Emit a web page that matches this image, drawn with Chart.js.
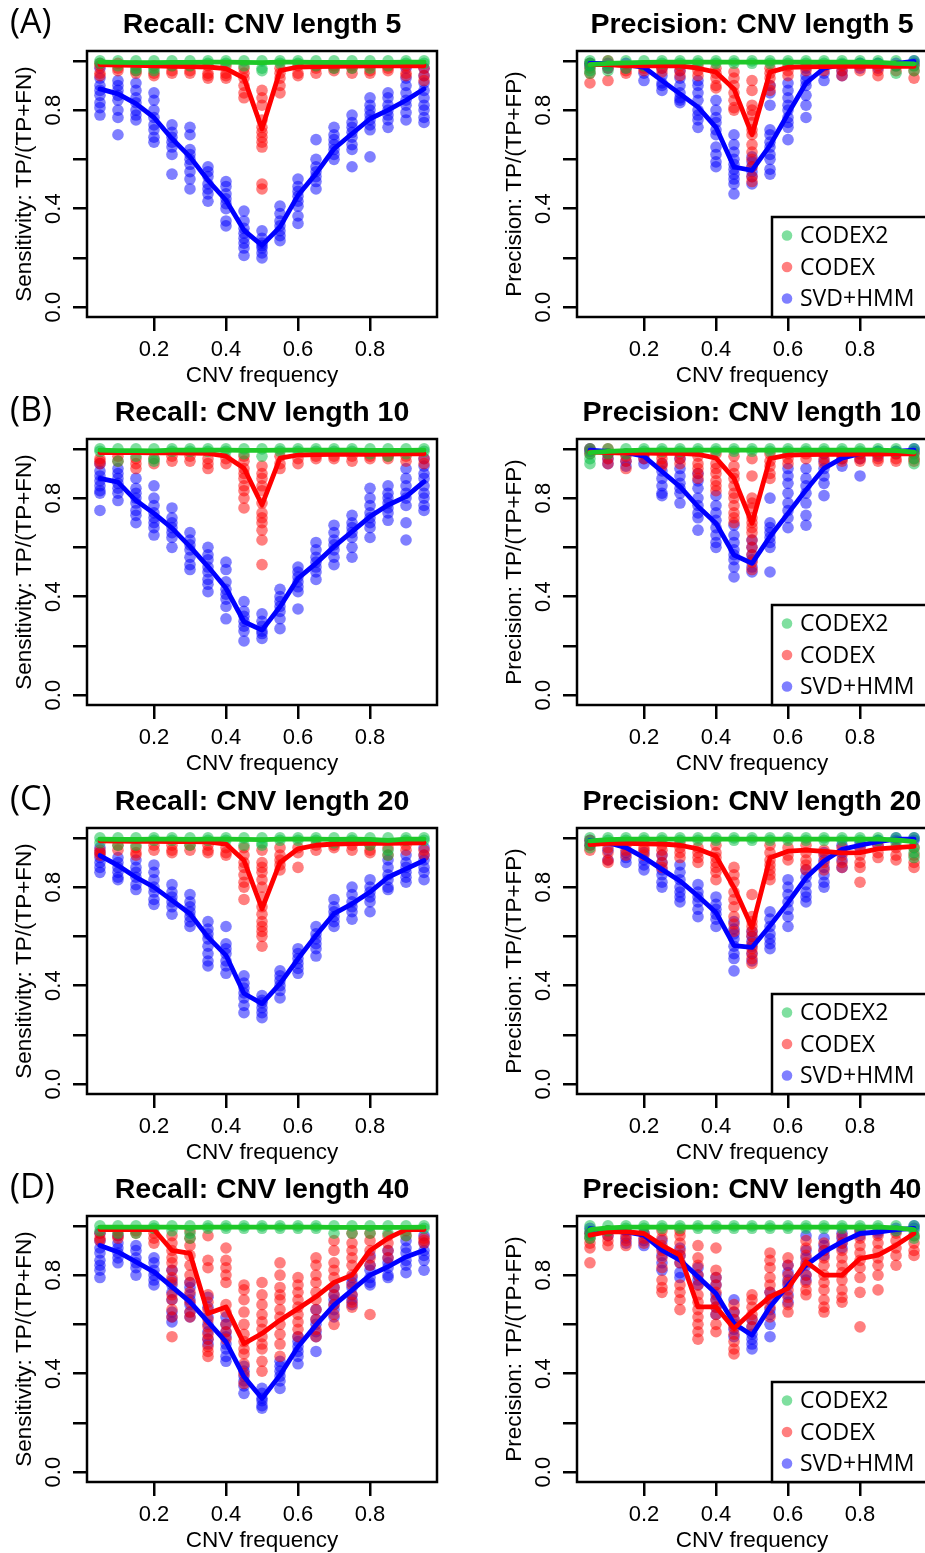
<!DOCTYPE html>
<html>
<head>
<meta charset="utf-8">
<script src="https://cdn.jsdelivr.net/npm/chart.js@4.4.0/dist/chart.umd.min.js"></script>
<style>
  html, body { margin: 0; padding: 0; background: #fff; width: 925px; height: 1553px; overflow: hidden; }
  #fig { position: relative; width: 925px; height: 1553px; overflow: hidden; }
  #fig canvas { position: absolute; }
  .tag { position: absolute; left: 10px; font-family: 'Open Sans', 'Noto Sans', sans-serif; font-size: 34px; line-height: 34px; color: #000; }
</style>
</head>
<body>
<div id="fig"></div>
<script>
// ---------- shared axes ----------
const cnvFrequency = [0.05, 0.10, 0.15, 0.20, 0.25, 0.30, 0.35, 0.40, 0.45, 0.50,
                      0.55, 0.60, 0.65, 0.70, 0.75, 0.80, 0.85, 0.90, 0.95];
const xTicks = [0.2, 0.4, 0.6, 0.8];
const yTicks = [0.0, 0.2, 0.4, 0.6, 0.8, 1.0];
const yTickLabels = ['0.0', '', '0.4', '', '0.8', ''];
const methods = ['CODEX2', 'CODEX', 'SVD+HMM'];
const recallAxisTitle = 'Sensitivity: TP/(TP+FN)';
const precisionAxisTitle = 'Precision: TP/(TP+FP)';
const xAxisTitle = 'CNV frequency';

// ---------- Recall, CNV length 5 ----------
const recall5Codex2 = [[1,0.99],[1,0.98],[1,0.97,0.96],[1,0.97,0.96],[1,0.98],[1,0.98],[1,0.99],[1,0.99],[1,0.98],[1,0.97,0.96],[1,0.99],[1,0.99],[1,0.98],[1,0.97],[1,0.97],[1,0.97],[1,0.98],[1,0.99],[1,0.99]];
const recall5Codex2Mean = [0.995,0.994,0.993,0.993,0.994,0.994,0.995,0.995,0.994,0.993,0.995,0.995,0.994,0.994,0.994,0.994,0.994,0.995,0.995];
const recall5Codex = [[0.99,0.98,0.95,0.94],[0.99,0.97,0.96],[0.98,0.96,0.95],[0.98,0.95,0.94],[0.98,0.96,0.95],[0.98,0.96,0.95],[0.98,0.95,0.94,0.93],[0.98,0.95,0.94,0.93],[0.97,0.95,0.93,0.9,0.87,0.85],[0.88,0.85,0.82,0.76,0.73,0.71,0.69,0.67,0.65,0.5,0.48],[0.97,0.95,0.93,0.9,0.87],[0.98,0.95,0.94],[0.98,0.97,0.95],[0.98,0.97,0.96],[0.98,0.97,0.95],[0.98,0.96,0.95],[0.98,0.97,0.96],[0.98,0.95,0.94],[0.97,0.94,0.92]];
const recall5CodexMean = [0.985,0.983,0.982,0.98,0.978,0.977,0.975,0.968,0.93,0.724,0.96,0.975,0.977,0.978,0.979,0.98,0.98,0.98,0.98];
const recall5Svd = [[0.97,0.93,0.9,0.88,0.86,0.83,0.81,0.78],[0.92,0.9,0.88,0.86,0.84,0.8,0.77,0.7],[0.91,0.88,0.85,0.83,0.8,0.78,0.76],[0.87,0.84,0.8,0.77,0.74,0.72,0.69,0.67],[0.74,0.71,0.69,0.67,0.65,0.62,0.54],[0.73,0.7,0.64,0.62,0.6,0.58,0.55,0.52,0.48],[0.57,0.55,0.53,0.5,0.48,0.46,0.43],[0.51,0.49,0.46,0.44,0.42,0.4,0.35,0.33],[0.39,0.35,0.32,0.3,0.28,0.26,0.24,0.21],[0.31,0.28,0.26,0.25,0.24,0.22,0.2],[0.41,0.38,0.35,0.33,0.31,0.29,0.27],[0.52,0.49,0.47,0.45,0.43,0.41,0.37,0.34],[0.68,0.6,0.57,0.55,0.53,0.51,0.48],[0.73,0.7,0.68,0.66,0.64,0.62,0.6],[0.78,0.75,0.73,0.71,0.69,0.66,0.64,0.57],[0.85,0.82,0.8,0.78,0.76,0.74,0.72,0.61],[0.87,0.85,0.82,0.8,0.78,0.76,0.73],[0.97,0.93,0.9,0.87,0.84,0.82,0.79,0.76],[0.97,0.94,0.91,0.88,0.85,0.82,0.8,0.77,0.75]];
const recall5SvdMean = [0.886,0.866,0.826,0.77,0.684,0.61,0.515,0.434,0.312,0.251,0.326,0.454,0.542,0.643,0.704,0.765,0.8,0.84,0.886];

// ---------- Precision, CNV length 5 ----------
const precision5Codex2 = [[1,0.99,0.98,0.96,0.95],[1,0.98,0.96],[1,0.97],[1,0.98],[1,0.99],[1,0.99],[1,0.99],[1,0.99],[1,0.99],[1,0.99],[1,0.99],[1,0.99],[1,0.99],[1,0.99],[1,0.99],[1,0.99],[1,0.99],[1,0.98,0.95],[1,0.98,0.96]];
const precision5Codex2Mean = [0.985,0.99,0.992,0.994,0.995,0.995,0.995,0.995,0.995,0.995,0.995,0.995,0.995,0.995,0.995,0.995,0.994,0.99,0.988];
const precision5Codex = [[0.99,0.97,0.95,0.91],[1,0.97,0.92],[0.96,0.95],[0.97,0.96],[0.97,0.955],[0.98,0.96,0.94],[0.98,0.96,0.94],[0.97,0.95,0.93,0.9,0.89],[0.955,0.93,0.9,0.87,0.84,0.81,0.8],[0.92,0.88,0.82,0.8,0.78,0.75,0.72,0.7,0.66,0.63,0.6,0.57,0.53,0.51],[0.97,0.95,0.93,0.9,0.88],[0.98,0.96,0.94],[0.98,0.96],[0.98,0.96],[0.98,0.96,0.94],[0.98,0.96],[0.98,0.96,0.94],[0.98,0.96],[0.98,0.96,0.93]];
const precision5CodexMean = [0.985,0.985,0.98,0.98,0.98,0.98,0.97,0.954,0.886,0.7,0.954,0.974,0.976,0.977,0.978,0.978,0.978,0.978,0.978];
const precision5Svd = [[0.99,0.98],[0.99,0.97],[0.99,0.97],[0.98,0.95,0.92],[0.97,0.94,0.91,0.9,0.88],[0.96,0.93,0.9,0.87,0.85,0.84,0.83],[0.92,0.9,0.87,0.84,0.8,0.78,0.76,0.73],[0.84,0.8,0.77,0.75,0.72,0.7,0.65,0.62,0.59,0.57],[0.7,0.66,0.63,0.6,0.58,0.56,0.54,0.52,0.5,0.46],[0.61,0.59,0.57,0.55,0.53,0.5],[0.9,0.87,0.82,0.72,0.7,0.67,0.65,0.62,0.6,0.56,0.54],[0.91,0.88,0.85,0.82,0.8,0.77,0.75,0.73,0.68],[0.97,0.94,0.92,0.9,0.86,0.82,0.77],[0.98,0.95,0.92],[0.985,0.96,0.94],[0.99,0.97],[0.99,0.97],[0.99,0.98],[1,0.99]];
const precision5SvdMean = [0.99,0.99,0.985,0.974,0.92,0.866,0.812,0.73,0.569,0.555,0.657,0.785,0.91,0.97,0.985,0.985,0.985,0.99,0.998];

// ---------- Recall, CNV length 10 ----------
const recall10Codex2 = [[1,0.99],[1,0.95],[1,0.97],[1,0.96,0.95],[1,0.99],[1,0.99],[1,0.99],[1,0.99],[1,0.98],[1,0.97],[1,0.99],[1,0.99],[1,0.99],[1,0.99],[1,0.99],[1,0.98],[1,0.97],[1,0.98],[1,0.99]];
const recall10Codex2Mean = [0.995,0.993,0.993,0.992,0.995,0.995,0.995,0.995,0.994,0.994,0.995,0.995,0.995,0.995,0.995,0.994,0.994,0.994,0.995];
const recall10Codex = [[0.96,0.95,0.94],[0.97,0.95],[0.96,0.94,0.92],[0.96,0.94],[0.97,0.95],[0.97,0.95],[0.96,0.94,0.92],[0.96,0.94],[0.97,0.95,0.92,0.9,0.88,0.85,0.83,0.8,0.76],[0.93,0.9,0.88,0.85,0.83,0.78,0.74,0.72,0.7,0.67,0.63,0.53],[0.97,0.94,0.92],[0.96,0.94],[0.97,0.96],[0.97,0.96],[0.97,0.95],[0.97,0.96],[0.97,0.96],[0.97,0.95],[0.96,0.94]];
const recall10CodexMean = [0.985,0.985,0.985,0.984,0.984,0.983,0.982,0.97,0.921,0.772,0.962,0.975,0.977,0.978,0.978,0.978,0.979,0.98,0.98];
const recall10Svd = [[0.94,0.91,0.89,0.87,0.85,0.83,0.82,0.75],[0.92,0.9,0.88,0.86,0.84,0.82,0.79],[0.88,0.84,0.82,0.8,0.78,0.75,0.73,0.7],[0.85,0.8,0.77,0.74,0.72,0.7,0.68,0.65],[0.76,0.72,0.7,0.68,0.66,0.64,0.6],[0.66,0.63,0.61,0.59,0.56,0.53,0.51],[0.6,0.57,0.55,0.52,0.5,0.47,0.45,0.42],[0.54,0.51,0.46,0.43,0.41,0.39,0.36,0.31],[0.38,0.34,0.32,0.3,0.28,0.26,0.22],[0.33,0.3,0.28,0.26,0.25,0.23],[0.43,0.4,0.38,0.36,0.34,0.31,0.27],[0.52,0.5,0.48,0.46,0.44,0.42,0.35],[0.62,0.59,0.56,0.54,0.52,0.5,0.47],[0.69,0.66,0.63,0.61,0.59,0.56,0.53],[0.73,0.7,0.68,0.66,0.64,0.6,0.56],[0.84,0.8,0.77,0.74,0.72,0.7,0.68,0.64],[0.85,0.82,0.8,0.78,0.76,0.74,0.71],[0.92,0.88,0.85,0.82,0.8,0.77,0.7,0.63],[0.96,0.93,0.9,0.88,0.85,0.82,0.8,0.77,0.75]];
const recall10SvdMean = [0.88,0.865,0.79,0.738,0.678,0.603,0.522,0.434,0.298,0.264,0.359,0.474,0.535,0.603,0.664,0.725,0.772,0.806,0.867];

// ---------- Precision, CNV length 10 ----------
const precision10Codex2 = [[1,0.98,0.96,0.94],[1,0.98],[1,0.98],[1,0.99],[1,0.99],[1,0.99],[1,0.99],[1,0.99],[1,0.99],[1,0.99],[1,0.99],[1,0.99],[1,0.99],[1,0.99],[1,0.99],[1,0.99],[1,0.99],[1,0.99],[1,0.98,0.96,0.94]];
const precision10Codex2Mean = [0.985,0.99,0.993,0.995,0.995,0.995,0.995,0.995,0.995,0.995,0.995,0.995,0.995,0.995,0.995,0.995,0.995,0.993,0.987];
const precision10Codex = [[1,0.98],[1,0.98,0.96,0.94],[0.97,0.95,0.92],[0.98,0.96],[0.98,0.96,0.94,0.93],[0.98,0.96,0.94],[0.97,0.94,0.92,0.9,0.88],[0.98,0.94,0.92,0.9,0.87,0.85,0.83],[0.97,0.93,0.9,0.88,0.85,0.82,0.8,0.77,0.74,0.72,0.7],[0.96,0.89,0.8,0.78,0.76,0.72,0.7,0.68,0.66,0.63,0.6,0.57,0.54,0.51],[0.98,0.95,0.93,0.9,0.88],[0.98,0.96,0.94],[0.98,0.96],[0.98,0.96,0.94],[0.98,0.96,0.95],[0.98,0.96,0.95],[0.98,0.96,0.95],[0.98,0.96,0.95],[0.98,0.96,0.95]];
const precision10CodexMean = [0.987,0.985,0.983,0.983,0.982,0.982,0.978,0.962,0.88,0.698,0.96,0.975,0.977,0.978,0.978,0.979,0.979,0.98,0.98];
const precision10Svd = [[1,0.99],[0.98,0.96,0.94],[0.98,0.95,0.93],[0.98,0.96,0.94],[0.94,0.91,0.88,0.85,0.82,0.81],[0.96,0.92,0.89,0.86,0.84,0.82,0.78],[0.9,0.87,0.84,0.8,0.77,0.74,0.72,0.67],[0.81,0.77,0.74,0.71,0.68,0.65,0.62,0.6],[0.69,0.65,0.62,0.59,0.57,0.55,0.52,0.48],[0.63,0.6,0.57,0.55,0.52,0.5],[0.8,0.7,0.68,0.66,0.64,0.62,0.6,0.5],[0.92,0.89,0.86,0.82,0.78,0.75,0.72,0.68],[0.92,0.88,0.85,0.82,0.78,0.73,0.69],[0.98,0.95,0.92,0.89,0.86,0.81],[0.98,0.96,0.93],[0.98,0.96,0.89],[0.99,0.97],[0.99,0.98],[1,0.99]];
const precision10SvdMean = [0.995,0.99,0.985,0.97,0.908,0.847,0.766,0.698,0.569,0.535,0.644,0.738,0.833,0.921,0.962,0.98,0.985,0.99,0.995];

// ---------- Recall, CNV length 20 ----------
const recall20Codex2 = [[1,0.98],[1,0.97],[1,0.97],[1,0.99],[1,0.99],[1,0.97],[1,0.99],[1,0.99],[1,0.97],[1,0.98,0.97],[1,0.99],[1,0.99],[1,0.99],[1,0.98],[1,0.99],[1,0.97],[1,0.95,0.93],[1,0.99],[1,0.99]];
const recall20Codex2Mean = [0.995,0.994,0.994,0.995,0.995,0.994,0.995,0.995,0.994,0.993,0.995,0.995,0.995,0.994,0.995,0.994,0.99,0.995,0.995];
const recall20Codex = [[0.95,0.94,0.93],[0.97,0.95],[0.96,0.94,0.93],[0.97,0.95],[0.97,0.95,0.94],[0.97,0.95],[0.97,0.95,0.94],[0.96,0.94,0.93],[0.96,0.93,0.9,0.88,0.85,0.82,0.8,0.75],[0.95,0.9,0.88,0.86,0.83,0.8,0.76,0.72,0.69,0.66,0.64,0.62,0.6,0.56],[0.96,0.93,0.91,0.89,0.87],[0.96,0.94,0.88],[0.97,0.95],[0.97,0.96],[0.97,0.95],[0.97,0.95,0.94],[0.96,0.93],[0.97,0.95],[0.95,0.93]];
const recall20CodexMean = [0.988,0.987,0.986,0.986,0.985,0.985,0.984,0.975,0.908,0.712,0.9,0.955,0.97,0.975,0.977,0.978,0.978,0.979,0.98];
const recall20Svd = [[0.96,0.94,0.92,0.9,0.88,0.86],[0.92,0.9,0.88,0.86,0.84,0.83],[0.91,0.88,0.86,0.84,0.81,0.79],[0.89,0.86,0.83,0.8,0.78,0.75,0.73],[0.81,0.78,0.76,0.74,0.72,0.69],[0.77,0.74,0.72,0.7,0.68,0.66,0.64],[0.66,0.63,0.61,0.59,0.56,0.53,0.5,0.48],[0.64,0.57,0.55,0.53,0.5,0.48,0.45],[0.44,0.41,0.39,0.37,0.35,0.32,0.29],[0.36,0.34,0.33,0.31,0.29,0.27],[0.46,0.44,0.42,0.4,0.38,0.35],[0.55,0.53,0.51,0.49,0.47,0.45],[0.64,0.61,0.59,0.57,0.55,0.52],[0.75,0.72,0.7,0.68,0.66,0.64],[0.8,0.77,0.74,0.72,0.7,0.67],[0.83,0.8,0.78,0.76,0.74,0.7],[0.91,0.88,0.85,0.83,0.8,0.79],[0.93,0.9,0.88,0.86,0.84,0.82],[0.96,0.93,0.91,0.88,0.86,0.83]];
const recall20SvdMean = [0.928,0.888,0.84,0.8,0.746,0.692,0.597,0.523,0.368,0.327,0.408,0.509,0.604,0.692,0.732,0.78,0.84,0.874,0.908];

// ---------- Precision, CNV length 20 ----------
const precision20Codex2 = [[1,0.98,0.96],[1,0.99],[1,0.99],[1,0.99],[1,0.99],[1,0.99],[1,0.99],[1,0.99],[1,0.99],[1,0.99],[1,0.99],[1,0.99],[1,0.99],[1,0.99],[1,0.99],[1,0.99],[1,0.99],[1,0.98],[1,0.96,0.94,0.92]];
const precision20Codex2Mean = [0.988,0.993,0.995,0.995,0.995,0.995,0.995,0.995,0.995,0.995,0.995,0.995,0.995,0.995,0.995,0.995,0.995,0.992,0.985];
const precision20Codex = [[0.99,0.97,0.95],[0.96,0.94,0.91,0.9],[0.97,0.95,0.93],[0.96,0.95,0.93],[0.97,0.95,0.93,0.9,0.88],[0.98,0.96,0.94,0.92],[0.96,0.94,0.92,0.9],[0.97,0.94,0.92,0.9,0.88,0.86,0.83],[0.88,0.85,0.82,0.78,0.75,0.72,0.68,0.65,0.62],[0.77,0.68,0.66,0.64,0.62,0.6,0.57,0.55,0.53,0.51,0.49],[0.97,0.94,0.91,0.89,0.87,0.85,0.83],[0.96,0.93,0.91],[0.97,0.94,0.91,0.89,0.87],[0.95,0.93,0.9,0.87],[0.96,0.93,0.9,0.88],[0.96,0.93,0.9,0.88,0.82],[0.97,0.94,0.92],[0.96,0.93,0.91],[0.96,0.93,0.9,0.88]];
const precision20CodexMean = [0.973,0.978,0.978,0.976,0.975,0.97,0.955,0.926,0.798,0.636,0.919,0.946,0.95,0.945,0.939,0.94,0.955,0.96,0.965];
const precision20Svd = [[0.99,0.97],[0.95,0.91],[0.94,0.92,0.9],[0.94,0.91,0.89,0.87],[0.93,0.9,0.87,0.85,0.82,0.8],[0.89,0.86,0.83,0.8,0.78,0.76,0.74],[0.81,0.78,0.76,0.74,0.71,0.68],[0.76,0.73,0.71,0.69,0.67,0.64],[0.66,0.63,0.61,0.59,0.56,0.53,0.51,0.46],[0.62,0.6,0.58,0.56,0.53,0.5],[0.7,0.67,0.64,0.61,0.59,0.57,0.55],[0.83,0.8,0.77,0.74,0.71,0.68,0.64],[0.87,0.84,0.81,0.78,0.76,0.74],[0.94,0.91,0.88,0.85,0.82,0.8],[0.97,0.94,0.91,0.88],[0.98,0.96],[0.99,0.97],[1,0.99],[1,0.99]];
const precision20SvdMean = [0.99,0.98,0.96,0.92,0.872,0.825,0.764,0.697,0.562,0.555,0.643,0.737,0.838,0.906,0.953,0.97,0.985,0.995,0.995];

// ---------- Recall, CNV length 40 ----------
const recall40Codex2 = [[1,0.98],[1,0.97],[1,0.97],[1,0.99],[1,0.98],[1,0.97,0.95],[1,0.99],[1,0.99],[1,0.99],[1,0.99],[1,0.99],[1,0.99],[1,0.99],[1,0.97],[1,0.97],[1,0.97],[1,0.97],[1,0.96],[1,0.99]];
const recall40Codex2Mean = [0.995,0.995,0.995,0.995,0.995,0.994,0.995,0.995,0.995,0.995,0.995,0.995,0.995,0.994,0.994,0.994,0.994,0.994,0.995];
const recall40Codex = [[0.97,0.95,0.94],[0.98,0.96,0.95],[0.98,0.97],[0.97,0.95,0.93],[0.96,0.93,0.9,0.87,0.85,0.82,0.79,0.77,0.72,0.7,0.66,0.63,0.55],[0.98,0.95,0.92,0.88,0.84,0.8,0.77,0.73,0.69,0.65,0.63],[0.96,0.86,0.83,0.72,0.69,0.66,0.62,0.59,0.56,0.54,0.51,0.49,0.47],[0.91,0.86,0.83,0.8,0.77,0.68,0.65,0.6,0.57,0.54],[0.76,0.74,0.7,0.65,0.6,0.56,0.53,0.5,0.48,0.44,0.4,0.36],[0.77,0.72,0.68,0.64,0.61,0.58,0.55,0.52,0.5,0.45,0.41],[0.85,0.8,0.75,0.72,0.7,0.66,0.63,0.6,0.56,0.52,0.47],[0.79,0.76,0.73,0.7,0.67,0.64,0.61,0.58,0.55],[0.87,0.84,0.8,0.77,0.73,0.7,0.66,0.62,0.58,0.55],[0.94,0.9,0.85,0.82,0.79,0.75,0.72,0.68,0.64,0.6],[0.97,0.93,0.9,0.87,0.84,0.8,0.76,0.72,0.69,0.67],[0.97,0.94,0.9,0.87,0.84,0.64],[0.96,0.93,0.9,0.87],[0.98,0.96],[0.95,0.94,0.93]];
const recall40CodexMean = [0.985,0.985,0.985,0.985,0.9,0.888,0.644,0.671,0.522,0.563,0.617,0.664,0.712,0.77,0.8,0.9,0.95,0.985,0.985];
const recall40Svd = [[0.97,0.94,0.91,0.89,0.86,0.84,0.82,0.79],[0.96,0.93,0.91,0.89,0.87,0.85],[0.92,0.9,0.87,0.85,0.83,0.8],[0.87,0.85,0.82,0.8,0.78,0.76],[0.82,0.78,0.76,0.73,0.7,0.65,0.63,0.61],[0.77,0.75,0.72,0.7,0.68,0.65,0.63],[0.71,0.67,0.63,0.6,0.57,0.54,0.52],[0.63,0.6,0.57,0.55,0.52,0.5,0.47,0.45],[0.43,0.41,0.39,0.37,0.35,0.32],[0.34,0.32,0.3,0.29,0.27,0.26],[0.45,0.43,0.41,0.39,0.37,0.34],[0.55,0.53,0.51,0.49,0.47,0.44],[0.66,0.62,0.6,0.57,0.55,0.49],[0.75,0.72,0.7,0.68,0.66,0.63],[0.79,0.77,0.75,0.72,0.7,0.68],[0.88,0.84,0.82,0.79,0.77,0.76],[0.9,0.87,0.85,0.83,0.8,0.79],[0.94,0.91,0.89,0.86,0.84,0.81],[0.96,0.93,0.9,0.88,0.86,0.82]];
const recall40SvdMean = [0.92,0.894,0.854,0.813,0.752,0.691,0.61,0.529,0.387,0.299,0.394,0.509,0.597,0.678,0.739,0.8,0.834,0.874,0.901];

// ---------- Precision, CNV length 40 ----------
const precision40Codex2 = [[1,0.98,0.96,0.95],[1,0.98],[1,0.99],[1,0.99],[1,0.99],[1,0.99],[1,0.99],[1,0.99],[1,0.99],[1,0.99],[1,0.99],[1,0.99],[1,0.99],[1,0.99],[1,0.99],[1,0.99],[1,0.99],[1,0.98],[1,0.98,0.96,0.95]];
const precision40Codex2Mean = [0.985,0.992,0.995,0.995,0.995,0.995,0.995,0.995,0.995,0.995,0.995,0.995,0.995,0.995,0.995,0.995,0.995,0.992,0.985];
const precision40Codex = [[0.97,0.95,0.93,0.91,0.85],[0.98,0.96,0.94,0.92],[0.98,0.96,0.94,0.92],[0.97,0.95,0.93],[0.98,0.95,0.92,0.9,0.87,0.83,0.78,0.75,0.73],[0.98,0.96,0.93,0.9,0.88,0.85,0.76,0.73,0.7,0.66],[0.92,0.87,0.84,0.8,0.76,0.72,0.69,0.66,0.63,0.6,0.57,0.54],[0.91,0.82,0.79,0.76,0.73,0.7,0.67,0.64,0.6,0.57],[0.68,0.65,0.62,0.59,0.56,0.53,0.5,0.48],[0.72,0.7,0.67,0.64,0.62,0.59],[0.89,0.86,0.83,0.79,0.76,0.73,0.7,0.67,0.63],[0.87,0.84,0.8,0.77,0.74,0.71,0.68,0.65],[0.94,0.91,0.88,0.85,0.8,0.77,0.74,0.72],[0.93,0.9,0.87,0.84,0.8,0.77,0.74,0.7,0.67,0.65],[0.96,0.93,0.9,0.87,0.84,0.81,0.78,0.74,0.71,0.69],[0.98,0.95,0.92,0.89,0.86,0.83,0.79,0.73,0.59],[0.96,0.93,0.9,0.87,0.84,0.8,0.74],[0.97,0.94,0.91,0.88,0.84],[0.96,0.93,0.9,0.88]];
const precision40CodexMean = [0.962,0.976,0.976,0.969,0.921,0.881,0.671,0.671,0.583,0.651,0.712,0.746,0.854,0.8,0.8,0.867,0.881,0.921,0.969];
const precision40Svd = [[0.99,0.97],[0.98,0.96],[0.98,0.95,0.93],[0.97,0.94,0.92],[0.94,0.91,0.88,0.85,0.82],[0.91,0.88,0.85,0.81,0.79],[0.83,0.8,0.78,0.76],[0.79,0.76,0.72,0.7,0.67,0.64],[0.7,0.65,0.62,0.6,0.58,0.55],[0.62,0.59,0.56,0.54,0.52,0.5],[0.73,0.7,0.66,0.64,0.6,0.55],[0.84,0.81,0.78,0.76,0.72,0.69],[0.96,0.9,0.87,0.84,0.8,0.78],[0.95,0.92,0.9,0.88],[0.97,0.95,0.93,0.91],[0.98,0.96],[0.98,0.97],[0.99,0.98],[1,0.99]];
const precision40SvdMean = [0.989,0.98,0.975,0.962,0.901,0.861,0.793,0.725,0.604,0.556,0.671,0.759,0.84,0.894,0.935,0.969,0.975,0.985,0.99];

// ---------- panel list (row by row: recall on the left, precision on the right) ----------
const panels = [
  { tag: '(A)', title: 'Recall: CNV length 5',     yTitle: recallAxisTitle,    legend: false,
    series: [[recall5Codex2, recall5Codex2Mean], [recall5Codex, recall5CodexMean], [recall5Svd, recall5SvdMean]] },
  { tag: null,  title: 'Precision: CNV length 5',  yTitle: precisionAxisTitle, legend: true,
    series: [[precision5Codex2, precision5Codex2Mean], [precision5Codex, precision5CodexMean], [precision5Svd, precision5SvdMean]] },
  { tag: '(B)', title: 'Recall: CNV length 10',    yTitle: recallAxisTitle,    legend: false,
    series: [[recall10Codex2, recall10Codex2Mean], [recall10Codex, recall10CodexMean], [recall10Svd, recall10SvdMean]] },
  { tag: null,  title: 'Precision: CNV length 10', yTitle: precisionAxisTitle, legend: true,
    series: [[precision10Codex2, precision10Codex2Mean], [precision10Codex, precision10CodexMean], [precision10Svd, precision10SvdMean]] },
  { tag: '(C)', title: 'Recall: CNV length 20',    yTitle: recallAxisTitle,    legend: false,
    series: [[recall20Codex2, recall20Codex2Mean], [recall20Codex, recall20CodexMean], [recall20Svd, recall20SvdMean]] },
  { tag: null,  title: 'Precision: CNV length 20', yTitle: precisionAxisTitle, legend: true,
    series: [[precision20Codex2, precision20Codex2Mean], [precision20Codex, precision20CodexMean], [precision20Svd, precision20SvdMean]] },
  { tag: '(D)', title: 'Recall: CNV length 40',    yTitle: recallAxisTitle,    legend: false,
    series: [[recall40Codex2, recall40Codex2Mean], [recall40Codex, recall40CodexMean], [recall40Svd, recall40SvdMean]] },
  { tag: null,  title: 'Precision: CNV length 40', yTitle: precisionAxisTitle, legend: true,
    series: [[precision40Codex2, precision40Codex2Mean], [precision40Codex, precision40CodexMean], [precision40Svd, precision40SvdMean]] }
];

// ---------- styling ----------
const pointColors = ['rgba(0,192,64,0.5)', 'rgba(255,0,0,0.5)', 'rgba(0,0,255,0.5)'];
const lineColors  = ['rgb(30,200,40)', 'rgb(255,0,0)', 'rgb(0,0,255)'];
const AXIS_FONT = "'Liberation Sans', Arial, Helvetica, sans-serif";
const LEGEND_FONT = "'Open Sans', 'Noto Sans', sans-serif";
const POINT_R = 5.8;

Chart.defaults.font.family = AXIS_FONT;
Chart.defaults.color = '#000';

function replicatePoints(reps) {
  const pts = [];
  reps.forEach((vals, i) => vals.forEach(v => pts.push({ x: cnvFrequency[i], y: v })));
  return pts;
}
function meanPath(vals) {
  return vals.map((v, i) => ({ x: cnvFrequency[i], y: v }));
}

// full box around the plotting region
const plotFrame = {
  id: 'plotFrame',
  afterDatasetsDraw(chart) {
    const { ctx, chartArea: a } = chart;
    ctx.save();
    ctx.lineWidth = 2.5;
    ctx.strokeStyle = '#000';
    ctx.strokeRect(a.left, a.top, a.right - a.left, a.bottom - a.top);
    ctx.restore();
  }
};

// boxed legend in the lower right corner of the plotting region
const boxLegend = {
  id: 'boxLegend',
  afterDraw(chart, args, opts) {
    if (!opts.show) return;
    const { ctx, chartArea: a } = chart;
    const left = a.right - 155, top = a.bottom - 100;
    ctx.save();
    ctx.fillStyle = '#fff';
    ctx.fillRect(left, top, a.right - left, a.bottom - top);
    ctx.lineWidth = 2.5;
    ctx.strokeStyle = '#000';
    ctx.strokeRect(left, top, a.right - left, a.bottom - top);
    ctx.font = '23px ' + LEGEND_FONT;
    ctx.textBaseline = 'middle';
    ctx.textAlign = 'left';
    methods.forEach((name, k) => {
      const cy = top + 18.5 + k * 31.5;
      ctx.beginPath();
      ctx.fillStyle = pointColors[k];
      ctx.arc(left + 15, cy, 5.3, 0, Math.PI * 2);
      ctx.fill();
      ctx.fillStyle = '#000';
      ctx.fillText(name, left + 28, cy + 1);
    });
    ctx.restore();
  }
};

const fig = document.getElementById('fig');
const PANEL_W = 462, PANEL_H = 388, ROW_PITCH = 388.3, COL_SHIFT = 490;

panels.forEach((p, idx) => {
  const row = Math.floor(idx / 2), col = idx % 2;
  const top = Math.round(row * ROW_PITCH);
  const cv = document.createElement('canvas');
  cv.width = PANEL_W; cv.height = PANEL_H;
  cv.style.left = (col * COL_SHIFT) + 'px';
  cv.style.top = top + 'px';
  cv.style.width = PANEL_W + 'px';
  cv.style.height = PANEL_H + 'px';
  fig.appendChild(cv);

  if (p.tag) {
    const t = document.createElement('div');
    t.className = 'tag';
    t.textContent = p.tag;
    t.style.top = (top + 3) + 'px';
    fig.appendChild(t);
  }

  const datasets = [];
  p.series.forEach((s, k) => {
    datasets.push({
      label: methods[k],
      data: replicatePoints(s[0]),
      backgroundColor: pointColors[k],
      borderWidth: 0,
      pointRadius: POINT_R,
      pointHoverRadius: POINT_R,
      showLine: false,
      order: 4 + k
    });
  });
  p.series.forEach((s, k) => {
    datasets.push({
      label: methods[k] + ' mean',
      data: meanPath(s[1]),
      borderColor: lineColors[k],
      backgroundColor: lineColors[k],
      borderWidth: 4.8,
      pointRadius: 0,
      pointHoverRadius: 0,
      showLine: true,
      fill: false,
      tension: 0,
      borderCapStyle: 'round',
      borderJoinStyle: 'round',
      order: 1 + k
    });
  });

  new Chart(cv, {
    type: 'scatter',
    data: { datasets },
    plugins: [plotFrame, boxLegend],
    options: {
      responsive: false,
      animation: false,
      devicePixelRatio: 1,
      events: [],
      layout: { padding: { left: 0, right: 25, top: 0, bottom: 0 } },
      plugins: {
        legend: { display: false },
        tooltip: { enabled: false },
        title: {
          display: true, text: p.title, fullSize: false, color: '#000',
          font: { family: AXIS_FONT, size: 28.5, weight: 'bold', lineHeight: 1 },
          padding: { top: 11, bottom: 11.5 }
        },
        boxLegend: { show: p.legend }
      },
      scales: {
        x: {
          type: 'linear', min: 0.014, max: 0.986,
          afterBuildTicks: s => { s.ticks = xTicks.map(v => ({ value: v })); },
          afterFit: s => { s.height = 71; },
          ticks: {
            autoSkip: false, maxRotation: 0, minRotation: 0, padding: 8,
            color: '#000', font: { size: 22, lineHeight: 1 },
            callback: v => Number(v).toFixed(1)
          },
          grid: { drawOnChartArea: false, drawTicks: true, tickLength: 14, lineWidth: 2.5, tickWidth: 2.5, tickColor: '#000', color: '#000' },
          border: { display: false },
          title: { display: true, text: xAxisTitle, color: '#000', font: { size: 22.5, lineHeight: 1 }, padding: { top: 0, bottom: 1 } }
        },
        y: {
          type: 'linear', min: -0.04, max: 1.04,
          afterBuildTicks: s => { s.ticks = yTicks.map(v => ({ value: v })); },
          afterFit: s => { s.width = 87; },
          ticks: {
            autoSkip: false, minRotation: 90, maxRotation: 90, crossAlign: 'center', padding: 4,
            color: '#000', font: { size: 22, lineHeight: 1 },
            callback: (v, i) => yTickLabels[i]
          },
          grid: { drawOnChartArea: false, drawTicks: true, tickLength: 14, lineWidth: 2.5, tickWidth: 2.5, tickColor: '#000', color: '#000' },
          border: { display: false },
          title: { display: true, text: p.yTitle, color: '#000', font: { size: 22.5, lineHeight: 1 }, padding: { top: 14, bottom: 0 } }
        }
      }
    }
  });
});
</script>
</body>
</html>
